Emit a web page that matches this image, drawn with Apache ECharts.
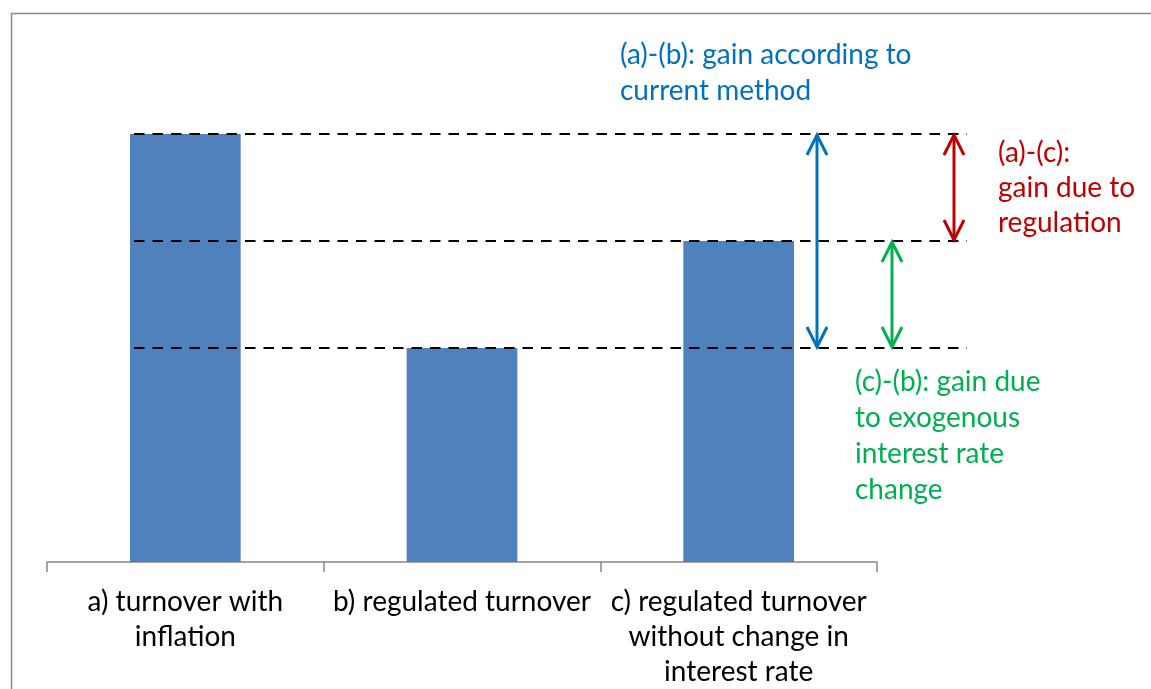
<!DOCTYPE html>
<html><head><meta charset="utf-8">
<script src="https://cdn.jsdelivr.net/npm/echarts@6/dist/echarts.min.js"></script>
<style>html,body{margin:0;padding:0;background:#fff}#c{width:1151px;height:689px}</style>
</head><body><div id="c"></div>
<script>
const categories = ['a) turnover with\ninflation', 'b) regulated turnover', 'c) regulated turnover\nwithout change in\ninterest rate'];
const values = [4, 2, 3];
const refLevels = [4, 3, 2];            // dashed reference lines (a, c, b)
const blueText = ['(a)-(b): gain according to', 'current method'];
const redText = ['(a)-(c):', 'gain due to', 'regulation'];
const greenText = ['(c)-(b): gain due', 'to exogenous', 'interest rate', 'change'];

const FONT = 'Lato, "Open Sans", sans-serif';
const FS = 28;
const chart = echarts.init(document.getElementById('c'), null, {renderer: 'canvas'});
chart.setOption({
  animation: false,
  backgroundColor: '#fff',
  grid: {left: 47, right: 274, top: 134, bottom: 127, containLabel: false},
  xAxis: {
    type: 'category', data: categories,
    axisLine: {lineStyle: {color: '#868686', width: 1.5}},
    axisTick: {show: true, length: 10, lineStyle: {color: '#868686', width: 1.5}},
    axisLabel: {color: '#000', fontSize: FS, fontFamily: FONT, lineHeight: 35, margin: 22, interval: 0}
  },
  yAxis: {type: 'value', min: 0, max: 4, show: false, splitLine: {show: false}},
  series: [{type: 'bar', data: values, barWidth: '40%', itemStyle: {color: '#4F81BD'}}]
});

function yPix(v) { return chart.convertToPixel({yAxisIndex: 0}, v); }

const g = [];
// outer frame
g.push({type: 'rect', shape: {x: 11.5, y: 13.5, width: 1200, height: 800}, style: {fill: null, stroke: '#8a8a8a', lineWidth: 1.5}, silent: true});
// dashed lines
refLevels.forEach(v => {
  const y = yPix(v);
  g.push({type: 'line', shape: {x1: 134, y1: y, x2: 967, y2: y}, style: {stroke: '#000', lineWidth: 2, lineDash: [10.5, 8]}, z: 10});
});
function arrow(x, vTop, vBot, color) {
  const y1 = yPix(vTop), y2 = yPix(vBot);
  const w = 10, h = 21;
  g.push({type: 'line', shape: {x1: x, y1: y1 + 1, x2: x, y2: y2 - 1}, style: {stroke: color, lineWidth: 3}, z: 11});
  g.push({type: 'polyline', shape: {points: [[x - w, y1 + h], [x, y1 + 1], [x + w, y1 + h]]}, style: {stroke: color, lineWidth: 3, fill: null, lineJoin: 'miter'}, z: 11});
  g.push({type: 'polyline', shape: {points: [[x - w, y2 - h], [x, y2 - 1], [x + w, y2 - h]]}, style: {stroke: color, lineWidth: 3, fill: null, lineJoin: 'miter'}, z: 11});
}
arrow(817, values[0], values[1], '#0070C0');
arrow(954, values[0], values[2], '#C00000');
arrow(892, values[2], values[1], '#00B050');

function txt(lines, x, y, color, lh) {
  g.push({type: 'text', x: x, y: y, style: {text: lines.join('\n'), fill: color, font: FS + 'px ' + FONT, lineHeight: lh, textVerticalAlign: 'top', textAlign: 'left'}, z: 12});
}
txt(blueText, 620, 37, '#0070C0', 36);
txt(redText, 998, 135, '#C00000', 35);
txt(greenText, 855, 364, '#00B050', 36);

chart.setOption({graphic: {elements: g}});
</script></body></html>
